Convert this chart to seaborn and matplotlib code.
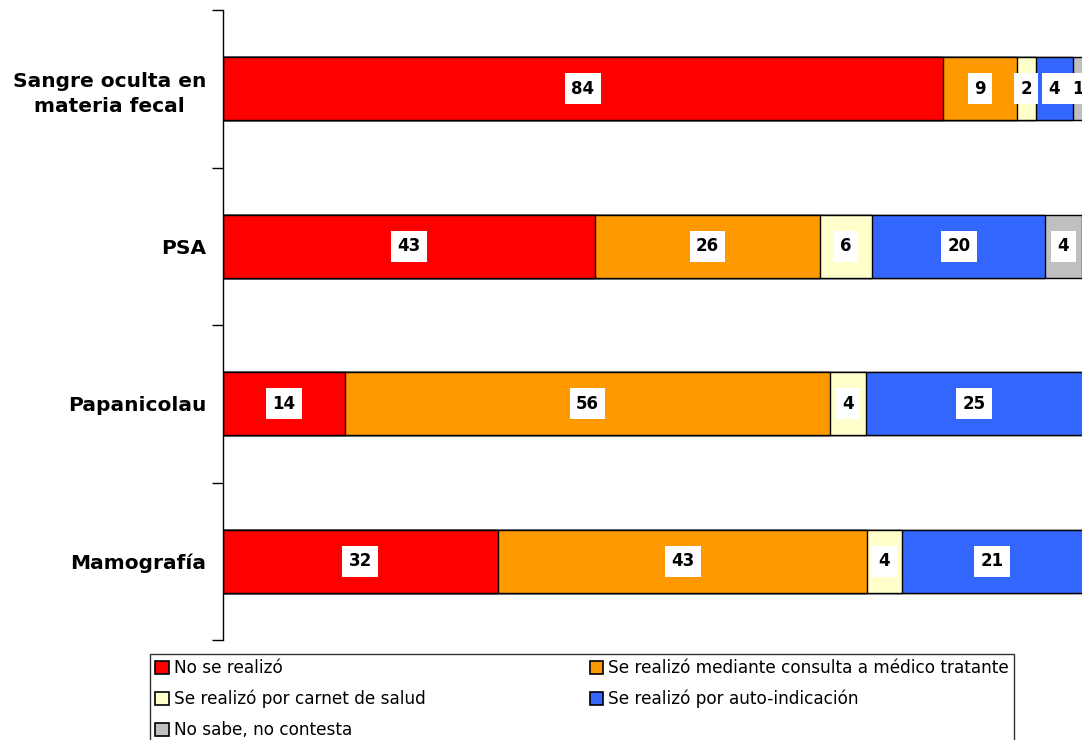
import numpy as np
import pandas as pd
import matplotlib
matplotlib.use("Agg")
import matplotlib.pyplot as plt
import seaborn as sns
from matplotlib.patches import Patch

# data (percentages)
categories = ["Sangre oculta en\nmateria fecal", "PSA", "Papanicolau", "Mamografía"]
series_names = [
    "No se realizó",
    "Se realizó mediante consulta a médico tratante",
    "Se realizó por carnet de salud",
    "Se realizó por auto-indicación",
    "No sabe, no contesta",
]
no_se_realizo = [83.8, 43.3, 14.2, 32.0]
consulta_medico = [8.6, 26.2, 56.5, 43.0]
carnet_salud = [2.2, 6.1, 4.1, 4.0]
auto_indicacion = [4.3, 20.1, 25.3, 21.1]
no_sabe = [1.2, 4.3, 0.0, 0.0]
colors = ["#FF0000", "#FF9900", "#FFFFCC", "#3366FF", "#C0C0C0"]

sns.set_style("white")
plt.rcParams["font.family"] = ["DejaVu Sans"]
plt.rcParams["text.color"] = "black"
plt.rcParams["ytick.color"] = "black"
plt.rcParams["ytick.labelcolor"] = "black"

values = np.array([no_se_realizo, consulta_medico, carnet_salud, auto_indicacion, no_sabe])
cum = values.cumsum(axis=0)

fig = plt.figure(figsize=(10.82, 7.4), dpi=100)
ax = fig.add_axes([223 / 1082, 1 - 640 / 740, 859 / 1082, 630 / 740])

# draw cumulative totals from the longest to the shortest so they stack
for i in range(len(series_names) - 1, -1, -1):
    df = pd.DataFrame({"cat": categories, "val": cum[i]})
    sns.barplot(data=df, y="cat", x="val", order=categories, orient="h",
                color=colors[i], saturation=1, width=0.4,
                edgecolor="black", linewidth=1.0, ax=ax)

# segment labels
for i in range(len(series_names)):
    for j, cat in enumerate(categories):
        v = values[i, j]
        if v < 0.5:
            continue
        xc = cum[i, j] - v / 2
        ax.text(xc, j, f"{v:.0f}", ha="center", va="center", fontsize=12,
                fontweight="bold", color="black", clip_on=False,
                bbox=dict(facecolor="white", edgecolor="none", pad=4.5))

ax.set_xlim(0, 100)
ax.set_ylim(len(categories) - 0.5, -0.5)
ax.set_xlabel("")
ax.set_ylabel("")
ax.set_xticks([])
for s in ["top", "right", "bottom"]:
    ax.spines[s].set_visible(False)
ax.spines["left"].set_color("black")
ax.spines["left"].set_linewidth(1.0)

ax.set_yticks(range(len(categories)))
ax.set_yticklabels(categories, fontsize=14.5, fontweight="bold",
                   ha="right", multialignment="center", linespacing=1.4)
ax.tick_params(axis="y", which="major", left=False, length=0, pad=12)
ax.set_yticks(np.arange(-0.5, len(categories), 1.0), minor=True)
ax.tick_params(axis="y", which="minor", left=True, length=8, width=1,
               color="black", direction="out")

# legend, filled row by row like the reference
order = [0, 2, 4, 1, 3]
handles = [Patch(facecolor=colors[k], edgecolor="black", linewidth=1.2) for k in order]
labels = [series_names[k] for k in order]
leg = fig.legend(handles, labels, loc="upper left", ncol=2,
                 bbox_to_anchor=(150 / 1082, 1 - 654 / 740),
                 frameon=True, fancybox=False, fontsize=12.2,
                 handlelength=0.8, handleheight=0.8, handletextpad=0.3,
                 columnspacing=9.7, labelspacing=0.75, borderpad=0.3,
                 borderaxespad=0)
leg.get_frame().set_edgecolor("black")
leg.get_frame().set_linewidth(1.0)

fig.savefig("out.png", dpi=100)
